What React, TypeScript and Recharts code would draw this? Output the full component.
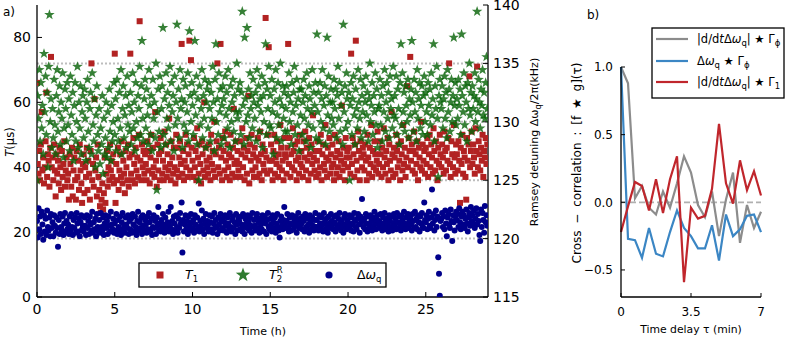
import React from "react";
import {
  ScatterChart,
  Scatter,
  LineChart,
  Line,
  XAxis,
  YAxis,
  CartesianGrid,
  ReferenceLine,
} from "recharts";

// panel a: one sample every 3 minutes, one row per hour
const HOURS_PER_SAMPLE = 0.05;

const t1Us = [
  66, 41, 38, 45, 36, 47, 57, 39, 43, 35, 40, 48, 63, 37, 44, 42, 34, 46, 74, 40,
  43, 36, 47, 39, 31, 44, 38, 42, 35, 46, 40, 33, 45, 37, 41, 48, 34, 39, 43, 36,
  38, 30, 44, 41, 34, 46, 31, 39, 43, 36, 30, 45, 37, 42, 33, 47, 39, 35, 29, 41,
  44, 32, 40, 37, 46, 33, 42, 38, 30, 45, 72, 36, 41, 34, 61, 39, 43, 31, 47, 37,
  33, 28, 26, 30, 35, 27, 32, 43, 29, 38, 45, 34, 40, 36, 47, 39, 42, 37, 44, 35,
  75, 29, 41, 36, 46, 33, 39, 44, 37, 48, 35, 42, 38, 32, 45, 40, 36, 47, 34, 43,
  75, 38, 44, 36, 49, 41, 35, 46, 39, 43, 37, 50, 85, 42, 36, 47, 40, 45, 38, 44,
  41, 36, 48, 39, 45, 35, 43, 50, 38, 46, 40, 37, 57, 42, 34, 47, 39, 44, 36, 49,
  45, 38, 42, 36, 51, 40, 47, 37, 44, 39, 55, 41, 36, 48, 43, 38, 46, 40, 35, 50,
  39, 46, 37, 43, 48, 41, 78, 38, 45, 36, 42, 50, 40, 47, 37, 44, 79, 39, 73, 46,
  42, 37, 49, 40, 45, 36, 52, 43, 38, 47, 41, 35, 48, 44, 39, 60, 37, 46, 42, 40,
  38, 47, 43, 36, 50, 41, 45, 39, 54, 37, 44, 48, 72, 40, 46, 38, 78, 43, 36, 49,
  45, 39, 51, 42, 37, 47, 40, 44, 36, 50, 43, 38, 46, 58, 41, 37, 48, 42, 45, 39,
  41, 48, 37, 44, 52, 40, 46, 36, 43, 49, 38, 45, 62, 35, 47, 42, 50, 39, 44, 37,
  46, 40, 43, 37, 49, 42, 38, 51, 44, 36, 47, 41, 39, 45, 86, 43, 38, 50, 77, 42,
  39, 47, 42, 36, 45, 50, 38, 43, 41, 48, 37, 44, 40, 53, 46, 39, 42, 36, 49, 44,
  43, 38, 46, 78, 41, 49, 37, 44, 40, 52, 45, 39, 47, 42, 36, 48, 43, 38, 50, 41,
  45, 40, 37, 48, 43, 51, 39, 46, 42, 36, 49, 44, 38, 47, 41, 56, 43, 39, 45, 37,
  42, 48, 38, 45, 40, 50, 36, 44, 47, 41, 39, 53, 43, 37, 46, 42, 49, 38, 44, 40,
  47, 41, 36, 50, 43, 38, 45, 40, 48, 37, 44, 42, 59, 39, 46, 41, 36, 49, 43, 45,
  40, 46, 43, 38, 75, 41, 49, 44, 37, 47, 79, 42, 39, 51, 45, 36, 48, 43, 40, 46,
  44, 39, 47, 42, 36, 50, 43, 38, 46, 41, 53, 37, 45, 40, 48, 44, 39, 42, 51, 38,
  41, 48, 44, 37, 46, 40, 52, 43, 38, 45, 41, 49, 36, 47, 42, 39, 57, 44, 37, 46,
  43, 38, 50, 45, 40, 47, 42, 36, 48, 44, 39, 53, 41, 46, 37, 43, 65, 40, 49, 45,
  74, 42, 47, 39, 45, 51, 38, 44, 41, 48, 36, 46, 43, 40, 54, 39, 47, 42, 45, 38,
  46, 41, 49, 37, 44, 50, 40, 47, 43, 38, 52, 45, 39, 48, 42, 36, 46, 41, 50, 44,
  40, 47, 43, 38, 51, 45, 39, 46, 42, 49, 72, 41, 37, 48, 44, 40, 53, 43, 38, 47,
  44, 39, 48, 42, 29, 46, 41, 50, 38, 45, 43, 37, 30, 49, 42, 47, 68, 40, 45, 51,
  41, 47, 43, 38, 52, 45, 71, 40, 48, 44, 39, 46, 42, 50, 37, 45, 43, 49, 41, 47,
];

const t2rUs = [
  36, 62, 55, 70, 48, 66, 52, 59, 44, 75, 57, 68, 50, 63, 40, 71, 87, 54, 61, 46,
  58, 49, 67, 53, 44, 62, 70, 51, 57, 65, 47, 60, 55, 69, 43, 52, 64, 58, 48, 66,
  53, 61, 45, 68, 56, 50, 63, 42, 59, 66, 48, 54, 71, 46, 60, 52, 65, 44, 57, 62,
  49, 64, 55, 42, 60, 67, 51, 46, 58, 63, 44, 69, 53, 48, 61, 40, 56, 65, 50, 45,
  58, 41, 52, 47, 62, 38, 55, 44, 49, 60, 43, 57, 46, 64, 51, 42, 59, 48, 54, 66,
  50, 61, 45, 67, 55, 48, 63, 52, 70, 44, 58, 65, 49, 56, 62, 46, 68, 53, 59, 51,
  63, 47, 57, 69, 52, 60, 45, 66, 54, 49, 62, 58, 71, 50, 65, 79, 55, 48, 61, 67,
  52, 64, 56, 47, 70, 59, 50, 62, 45, 67, 55, 60, 49, 72, 33, 57, 64, 51, 68, 46,
  58, 65, 83, 50, 61, 47, 69, 55, 63, 52, 59, 71, 48, 66, 57, 62, 45, 68, 53, 60,
  84, 55, 64, 49, 70, 58, 61, 46, 67, 53, 60, 65, 51, 57, 69, 48, 82, 62, 54, 66,
  59, 50, 63, 79, 56, 68, 47, 61, 36, 65, 53, 58, 70, 49, 62, 55, 67, 46, 60, 64,
  52, 66, 58, 48, 63, 55, 71, 60, 45, 67, 78, 54, 61, 50, 69, 57, 64, 47, 59, 65,
  61, 49, 68, 56, 63, 52, 70, 58, 46, 65, 54, 60, 67, 51, 62, 48, 57, 72, 55, 64,
  57, 66, 50, 63, 88, 59, 47, 80, 61, 54, 83, 56, 64, 49, 69, 58, 62, 52, 67, 60,
  55, 63, 48, 70, 59, 65, 51, 61, 57, 68, 46, 62, 54, 66, 78, 50, 64, 58, 71, 53,
  62, 52, 67, 57, 44, 64, 60, 70, 49, 56, 66, 53, 61, 72, 48, 59, 65, 55, 63, 51,
  58, 65, 51, 62, 69, 54, 60, 47, 66, 57, 63, 71, 50, 59, 67, 53, 61, 45, 64, 56,
  64, 50, 60, 67, 55, 62, 48, 69, 58, 53, 65, 61, 46, 57, 70, 52, 63, 59, 66, 49,
  81, 57, 63, 48, 66, 54, 61, 70, 52, 59, 65, 47, 62, 80, 56, 68, 51, 60, 64, 55,
  60, 53, 67, 58, 64, 49, 62, 71, 55, 66, 51, 59, 63, 47, 84, 57, 65, 52, 69, 61,
  54, 63, 36, 59, 66, 50, 61, 68, 56, 47, 64, 58, 52, 70, 60, 55, 67, 49, 62, 57,
  65, 51, 60, 68, 56, 63, 48, 61, 72, 54, 59, 66, 50, 62, 57, 69, 53, 64, 46, 58,
  59, 67, 53, 62, 48, 65, 57, 70, 51, 60, 66, 55, 63, 49, 68, 58, 61, 52, 71, 56,
  62, 55, 68, 50, 64, 58, 47, 66, 78, 53, 69, 57, 63, 51, 65, 59, 54, 67, 49, 61,
  56, 64, 79, 60, 51, 67, 57, 63, 48, 70, 55, 61, 66, 52, 59, 65, 50, 62, 68, 54,
  63, 57, 50, 66, 59, 64, 53, 69, 56, 61, 78, 48, 65, 58, 71, 55, 37, 62, 67, 60,
  58, 65, 52, 61, 68, 55, 63, 49, 70, 57, 64, 51, 60, 67, 54, 62, 80, 59, 66, 53,
  61, 55, 67, 59, 64, 50, 81, 62, 57, 69, 53, 65, 60, 48, 66, 58, 72, 56, 63, 51,
  65, 58, 62, 69, 54, 61, 88, 57, 67, 60, 52, 64, 59, 70, 56, 63, 55, 66, 74, 58,
];

const detuningKHz = [
  121.5, 120.1, 122.6, 120.8, 121.9, 120.4, 122.3, 121.2, 119.9, 122.0, 120.6, 121.7, 120.3, 122.4, 121.0, 120.7, 121.8, 120.2, 122.1, 120.9,
  121.4, 120.2, 122.0, 121.1, 120.5, 121.8, 120.9, 119.3, 121.6, 120.4, 122.1, 121.0, 120.7, 121.9, 120.3, 121.3, 122.2, 120.6, 121.5, 120.8,
  121.2, 120.4, 121.9, 120.7, 122.1, 121.0, 120.3, 121.6, 120.9, 121.8, 120.5, 122.2, 121.3, 120.6, 121.7, 120.2, 121.4, 122.0, 120.8, 121.1,
  120.6, 121.8, 121.1, 120.3, 122.0, 120.9, 121.5, 120.4, 121.9, 121.2, 120.7, 122.3, 120.5, 121.4, 120.8, 121.7, 120.2, 122.1, 121.0, 120.6,
  121.6, 120.5, 122.2, 121.0, 120.7, 121.8, 120.3, 121.3, 122.0, 120.9, 121.5, 120.4, 121.9, 121.1, 120.6, 122.3, 121.2, 120.8, 121.7, 120.5,
  121.3, 120.7, 122.1, 120.4, 121.6, 121.0, 120.6, 121.9, 120.3, 121.4, 122.2, 120.8, 121.1, 120.5, 121.8, 121.2, 120.9, 122.0, 120.4, 121.5,
  120.8, 121.7, 120.5, 122.1, 121.2, 120.6, 121.9, 121.0, 120.3, 121.5, 122.3, 120.7, 121.4, 120.9, 121.8, 120.4, 122.0, 121.1, 120.7, 121.6,
  121.2, 120.5, 121.9, 120.8, 122.2, 121.4, 120.6, 121.7, 120.3, 121.0, 122.0, 120.9, 121.5, 120.4, 121.8, 121.1, 122.7, 120.7, 121.3, 120.6,
  121.6, 120.9, 122.1, 121.2, 120.5, 121.8, 121.0, 120.7, 121.4, 122.3, 120.6, 121.1, 122.7, 120.8, 121.5, 120.4, 121.9, 121.3, 120.7, 122.0,
  121.0, 120.5, 121.7, 120.9, 122.2, 121.3, 123.1, 118.8, 121.6, 120.6, 121.2, 122.0, 120.8, 121.5, 120.4, 121.9, 121.1, 120.7, 122.1, 121.4,
  120.9, 121.6, 120.5, 122.0, 121.2, 120.7, 121.8, 121.0, 123.0, 120.6, 121.5, 121.1, 122.4, 120.8, 121.7, 120.4, 121.3, 122.1, 120.9, 121.5,
  121.2, 120.6, 122.0, 121.4, 120.8, 121.9, 120.5, 121.3, 122.2, 120.9, 121.6, 121.0, 120.4, 121.8, 121.2, 120.7, 122.1, 121.5, 120.9, 121.7,
  120.7, 121.4, 122.0, 121.1, 120.5, 121.8, 121.3, 120.8, 122.2, 121.0, 120.6, 121.6, 121.9, 120.9, 121.4, 120.4, 122.1, 121.2, 120.7, 121.7,
  121.5, 120.8, 121.9, 121.2, 120.6, 122.1, 121.0, 120.4, 121.7, 121.3, 120.9, 122.0, 121.4, 120.7, 121.8, 121.1, 120.5, 122.2, 121.0, 121.6,
  121.1, 120.7, 121.8, 122.1, 120.9, 121.4, 120.5, 121.7, 121.2, 120.8, 122.0, 121.5, 120.6, 121.9, 121.3, 120.4, 121.6, 122.2, 121.0, 120.8,
  121.7, 121.2, 120.6, 122.0, 121.4, 120.9, 121.8, 120.5, 121.3, 122.1, 121.0, 120.7, 120.1, 121.5, 121.9, 121.1, 120.8, 121.6, 122.7, 121.3,
  120.9, 121.5, 122.1, 121.0, 120.6, 121.8, 121.3, 120.7, 122.0, 121.2, 120.8, 121.6, 121.9, 121.1, 120.5, 121.4, 122.2, 120.9, 121.7, 121.2,
  121.3, 120.8, 121.9, 121.5, 120.6, 122.1, 121.0, 120.9, 121.7, 121.2, 120.5, 122.0, 121.4, 120.8, 121.8, 121.1, 120.7, 121.6, 122.2, 121.0,
  121.6, 121.0, 120.7, 122.0, 121.3, 120.9, 121.8, 121.2, 120.6, 122.2, 121.4, 120.8, 121.7, 121.1, 120.5, 121.9, 121.3, 120.9, 122.1, 121.5,
  121.2, 120.8, 121.9, 121.4, 120.6, 122.0, 121.1, 120.9, 121.7, 122.2, 121.3, 120.7, 121.5, 121.0, 120.5, 121.8, 122.1, 121.2, 120.8, 121.6,
  121.4, 120.9, 122.0, 121.1, 120.7, 121.8, 121.3, 120.6, 122.2, 121.5, 121.0, 120.8, 121.7, 122.1, 121.2, 120.5, 121.9, 121.4, 123.4, 121.6,
  121.0, 121.7, 120.8, 122.1, 121.3, 120.6, 121.9, 121.2, 120.9, 122.0, 121.5, 120.7, 121.8, 121.1, 122.3, 121.4, 120.8, 121.6, 122.0, 121.2,
  121.5, 120.9, 122.1, 121.3, 120.7, 121.8, 121.0, 122.2, 121.4, 120.8, 121.7, 121.2, 120.6, 122.0, 121.5, 121.0, 121.9, 120.7, 121.3, 122.1,
  121.1, 121.7, 120.8, 122.2, 121.4, 120.9, 121.9, 121.2, 120.7, 122.0, 121.6, 121.0, 122.3, 121.3, 120.8, 121.8, 121.1, 122.1, 120.9, 121.5,
  121.8, 121.2, 120.7, 122.1, 121.5, 120.9, 122.3, 121.0, 121.7, 120.8, 122.0, 121.4, 120.6, 121.9, 121.3, 122.2, 121.0, 120.9, 123.1, 121.6,
  121.4, 122.0, 120.8, 121.7, 122.3, 121.1, 120.9, 121.8, 124.2, 121.3, 122.1, 120.7, 121.6, 122.4, 121.0, 121.9, 118.4, 117.0, 115.1, 121.5,
  121.7, 122.2, 121.0, 121.9, 120.8, 122.4, 121.3, 120.2, 121.8, 122.1, 121.2, 120.9, 122.5, 121.5, 119.8, 122.0, 121.4, 120.7, 121.9, 122.3,
  121.6, 122.1, 121.0, 122.6, 121.4, 120.8, 121.9, 122.3, 121.2, 122.0, 120.9, 121.7, 122.5, 121.3, 120.6, 121.8, 122.2, 121.1, 122.7, 121.5,
  122.0, 121.3, 122.4, 120.9, 121.7, 122.6, 121.2, 122.1, 121.5, 120.3, 119.8, 122.5, 121.0, 122.2, 121.6, 120.5, 122.8, 121.4, 122.0, 121.1,
];

const timeTicks = [0, 5, 10, 15, 20, 25];
const t1AxisTicks = [0, 20, 40, 60, 80];
const detuningTicks = [115, 120, 125, 130, 135, 140];
const detuningGrid = [120, 125, 130, 135];

// panel b: cross-correlations vs delay
const tauMin = [0, 0.35, 0.7, 1.05, 1.4, 1.75, 2.1, 2.45, 2.8, 3.15, 3.5, 3.85, 4.2, 4.55, 4.9, 5.25, 5.6, 5.95, 6.3, 6.65, 7];
const ccDerivGammaPhi = [1.0, 0.88, 0.03, 0.12, -0.04, -0.09, 0.08, -0.04, 0.14, 0.34, 0.22, -0.02, -0.11, 0.08, -0.25, 0.02, 0.22, -0.3, -0.02, -0.19, -0.07];
const ccDetGammaPhi = [1.0, -0.27, -0.28, -0.41, -0.19, -0.38, -0.4, -0.22, -0.06, -0.19, -0.25, -0.34, -0.34, -0.17, -0.43, -0.09, -0.25, -0.2, -0.1, -0.09, -0.22];
const ccDerivGamma1 = [-0.22, -0.03, 0.15, 0.12, -0.06, 0.17, -0.08, 0.17, 0.34, -0.59, -0.04, -0.12, -0.1, 0.1, 0.58, 0.14, -0.01, 0.31, 0.09, 0.23, 0.05];
const tauTicks = [0, 3.5, 7];
const ccTicks = [-0.5, 0, 0.5, 1.0];

const RED = "#b22222";
const GREEN = "#0a640a";
const NAVY = "#00008b";
const FONT = "DejaVu Sans";

const toPoints = (vals: number[]) =>
  vals.map((v, i) => ({ t: Math.round(i * HOURS_PER_SAMPLE * 100) / 100, v }));

const t1Points = toPoints(t1Us);
const t2rPoints = toPoints(t2rUs);
const detPoints = toPoints(detuningKHz);

const ccRows = tauMin.map((tau, i) => ({
  tau,
  derivPhi: ccDerivGammaPhi[i],
  detPhi: ccDetGammaPhi[i],
  derivT1: ccDerivGamma1[i],
}));

function starPath(cx: number, cy: number, R: number, r: number) {
  let d = "";
  for (let k = 0; k < 10; k++) {
    const rad = k % 2 === 0 ? R : r;
    const a = -Math.PI / 2 + (k * Math.PI) / 5;
    d += (k === 0 ? "M" : "L") + (cx + rad * Math.cos(a)).toFixed(2) + "," + (cy + rad * Math.sin(a)).toFixed(2);
  }
  return d + "Z";
}

const SquareMark = (p: any) => <rect x={p.cx - 3} y={p.cy - 3} width={6} height={6} fill={RED} />;
const StarMark = (p: any) => <path d={starPath(p.cx, p.cy, 5.5, 2.2)} fill={GREEN} fillOpacity={0.82} />;
const DotMark = (p: any) => <circle cx={p.cx} cy={p.cy} r={3} fill={NAVY} />;

const axisLine = { stroke: "#000", strokeWidth: 1.3 };
const tickLine = { stroke: "#000", strokeWidth: 1 };
const tickA = { fill: "#000", fontSize: 14, fontFamily: FONT };
const tickB = { fill: "#000", fontSize: 12, fontFamily: FONT };

const fmtCC = (v: number) => (v === 0 ? "0.0" : (v < 0 ? "\u2212" : "") + Math.abs(v).toFixed(1));

function PanelA() {
  return (
    <ScatterChart width={560} height={338} margin={{ top: 5, right: 0, bottom: 0, left: 0 }}>
      <CartesianGrid
        xAxisId="bottom"
        yAxisId="right"
        vertical={false}
        horizontalValues={detuningGrid}
        stroke="#bdbdbd"
        strokeWidth={2}
        strokeDasharray="2 2"
      />
      <XAxis
        xAxisId="bottom"
        type="number"
        dataKey="t"
        domain={[0, 29]}
        ticks={timeTicks}
        interval={0}
        height={41}
        tickSize={-5}
        tickMargin={12}
        axisLine={axisLine}
        tickLine={tickLine}
        tick={tickA}
        allowDataOverflow
      />
      <XAxis
        xAxisId="top"
        orientation="top"
        type="number"
        dataKey="t"
        domain={[0, 29]}
        ticks={timeTicks}
        interval={0}
        height={0}
        tickSize={-5}
        axisLine={axisLine}
        tickLine={tickLine}
        tick={false}
        allowDataOverflow
      />
      <YAxis
        yAxisId="left"
        type="number"
        dataKey="v"
        domain={[0, 90]}
        ticks={t1AxisTicks}
        interval={0}
        width={37}
        tickSize={-5}
        tickMargin={11}
        axisLine={axisLine}
        tickLine={tickLine}
        tick={tickA}
        allowDataOverflow
      />
      <YAxis
        yAxisId="right"
        orientation="right"
        type="number"
        dataKey="v"
        domain={[115, 140]}
        ticks={detuningTicks}
        interval={0}
        width={72}
        tickSize={-5}
        tickMargin={10}
        axisLine={axisLine}
        tickLine={tickLine}
        tick={tickA}
        allowDataOverflow
      />
      <Scatter xAxisId="bottom" yAxisId="left" data={t1Points} shape={SquareMark} isAnimationActive={false} />
      <Scatter xAxisId="bottom" yAxisId="left" data={t2rPoints} shape={StarMark} isAnimationActive={false} />
      <Scatter xAxisId="bottom" yAxisId="right" data={detPoints} shape={DotMark} isAnimationActive={false} />
    </ScatterChart>
  );
}

function PanelB() {
  return (
    <LineChart width={229} height={338} data={ccRows} margin={{ top: 67, right: 28, bottom: 0, left: 0 }}>
      <XAxis
        xAxisId="bottom"
        type="number"
        dataKey="tau"
        domain={[0, 7]}
        ticks={tauTicks}
        interval={0}
        height={41}
        tickSize={-4}
        tickMargin={14}
        axisLine={axisLine}
        tickLine={tickLine}
        tick={tickB}
      />
      <XAxis
        xAxisId="top"
        orientation="top"
        type="number"
        dataKey="tau"
        domain={[0, 7]}
        height={0}
        axisLine={axisLine}
        tickLine={false}
        tick={false}
      />
      <YAxis
        yAxisId="left"
        type="number"
        domain={[-0.7, 1]}
        ticks={ccTicks}
        interval={0}
        width={61}
        tickSize={-4}
        tickMargin={12}
        tickFormatter={fmtCC}
        axisLine={axisLine}
        tickLine={tickLine}
        tick={tickB}
        allowDataOverflow
      />
      <YAxis
        yAxisId="right"
        orientation="right"
        type="number"
        domain={[-0.7, 1]}
        width={0}
        axisLine={axisLine}
        tickLine={false}
        tick={false}
      />
      <ReferenceLine xAxisId="bottom" yAxisId="left" y={0} stroke="#b0b0b0" strokeWidth={1.8} strokeDasharray="6 3" />
      <Line xAxisId="bottom" yAxisId="left" dataKey="derivPhi" stroke="#8c8c8c" strokeWidth={2.2} dot={false} isAnimationActive={false} />
      <Line xAxisId="bottom" yAxisId="left" dataKey="detPhi" stroke="#3b86c4" strokeWidth={2.2} dot={false} isAnimationActive={false} />
      <Line xAxisId="bottom" yAxisId="left" dataKey="derivT1" stroke="#c0262c" strokeWidth={2.2} dot={false} isAnimationActive={false} />
    </LineChart>
  );
}

const sub = { fontSize: 8.5 };

function Overlay() {
  return (
    <svg width={789} height={338} style={{ position: "absolute", left: 0, top: 0, pointerEvents: "none" }} fontFamily={FONT} fill="#000">
      <text x={3} y={16} fontSize={12}>a)</text>
      <text x={587} y={19} fontSize={12}>b)</text>

      <text transform="translate(13.5,142) rotate(-90)" textAnchor="middle" fontSize={11.5}>
        <tspan fontStyle="italic">T</tspan>(μs)
      </text>
      <text transform="translate(538,142) rotate(-90)" textAnchor="middle" fontSize={11}>
        Ramsey detuning Δω<tspan {...sub} dy={2.5}>q</tspan><tspan dy={-2.5}>/2π(kHz)</tspan>
      </text>
      <text x={263} y={335} textAnchor="middle" fontSize={11}>Time (h)</text>

      <text transform="translate(581,163) rotate(-90)" textAnchor="middle" fontSize={12} wordSpacing={3}>
        Cross − correlation : [f ★ g](τ)
      </text>
      <text x={691} y={333} textAnchor="middle" fontSize={10.8}>Time delay τ (min)</text>

      {/* legend a */}
      <rect x={139} y={263} width={247} height={24} fill="#fff" stroke="#000" strokeWidth={1.3} />
      <rect x={156.5} y={271.5} width={7} height={7} fill={RED} />
      <text x={185} y={279} fontSize={12.5}>
        <tspan fontStyle="italic">T</tspan><tspan {...sub} dy={3}>1</tspan>
      </text>
      <path d={starPath(243, 275, 7.6, 3.1)} fill={GREEN} fillOpacity={0.85} />
      <text x={269} y={279} fontSize={12.5}>
        <tspan fontStyle="italic">T</tspan><tspan {...sub} dy={3}>2</tspan><tspan {...sub} dx={-5.2} dy={-9}>R</tspan>
      </text>
      <circle cx={329} cy={275} r={3.6} fill={NAVY} />
      <text x={357} y={279} fontSize={12.5}>
        Δ<tspan fontStyle="italic">ω</tspan><tspan {...sub} dy={3}>q</tspan>
      </text>

      {/* legend b */}
      <rect x={652} y={28} width={132} height={70} fill="#fff" stroke="#000" strokeWidth={1.3} />
      <line x1={656} x2={688} y1={39} y2={39} stroke="#8c8c8c" strokeWidth={2.2} />
      <text x={697} y={43} fontSize={11.5}>
        |d/d<tspan fontStyle="italic">t</tspan>Δ<tspan fontStyle="italic">ω</tspan><tspan {...sub} dy={2.5}>q</tspan><tspan dy={-2.5}>| ★ Γ</tspan><tspan {...sub} dy={2.5}>ϕ</tspan>
      </text>
      <line x1={656} x2={688} y1={61} y2={61} stroke="#3b86c4" strokeWidth={2.2} />
      <text x={697} y={65} fontSize={11.5}>
        Δ<tspan fontStyle="italic">ω</tspan><tspan {...sub} dy={2.5}>q</tspan><tspan dy={-2.5}> ★ Γ</tspan><tspan {...sub} dy={2.5}>ϕ</tspan>
      </text>
      <line x1={656} x2={688} y1={82} y2={82} stroke="#c0262c" strokeWidth={2.2} />
      <text x={697} y={86} fontSize={11.5}>
        |d/d<tspan fontStyle="italic">t</tspan>Δ<tspan fontStyle="italic">ω</tspan><tspan {...sub} dy={2.5}>q</tspan><tspan dy={-2.5}>| ★ Γ</tspan><tspan {...sub} dy={2.5}>1</tspan>
      </text>
    </svg>
  );
}

export default function App() {
  return (
    <div style={{ position: "absolute", left: 0, top: 0, width: 789, height: 338, background: "#fff" }}>
      <div style={{ position: "absolute", left: 0, top: 0 }}>
        <PanelA />
      </div>
      <div style={{ position: "absolute", left: 560, top: 0 }}>
        <PanelB />
      </div>
      <Overlay />
    </div>
  );
}
